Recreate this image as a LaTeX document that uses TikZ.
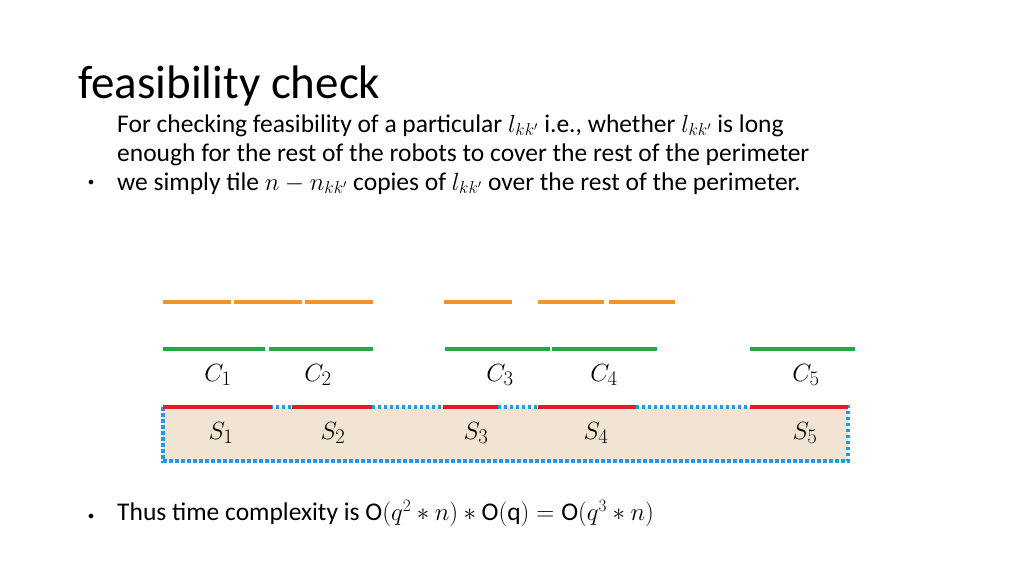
\documentclass[tikz,border=0pt]{standalone}
\usepackage{fontspec}
\setmainfont{Carlito}
\usetikzlibrary{positioning}
\definecolor{tileorange}{RGB}{240,150,40}
\definecolor{covgreen}{RGB}{30,170,70}
\definecolor{segred}{RGB}{225,30,40}
\definecolor{periblue}{RGB}{30,155,225}
\definecolor{perifill}{RGB}{242,228,210}
\tikzset{tile/.style={draw=tileorange, line width=4.5pt}}
\tikzset{cover/.style={draw=covgreen, line width=4.5pt}}
\tikzset{seg/.style={draw=segred, line width=4.5pt}}
\tikzset{perimeter/.style={draw=periblue, fill=perifill, line width=3.5pt, dash pattern=on 3.5pt off 2.5pt}}
\tikzset{body/.style={anchor=west, inner sep=0pt, font=\fontsize{25.5}{29}\selectfont, align=left}}
\tikzset{lbl/.style={inner sep=0pt, font=\fontsize{31}{34}\selectfont}}

\begin{document}
\begin{tikzpicture}[x=1pt, y=-1pt]
\useasboundingbox (0,0) rectangle (1024,576);

\node [anchor=west, inner sep=0pt, font=\fontsize{47}{52}\selectfont] (title) at (78,86) {feasibility check};

\node [body] (bullet1) at (88,183) {\fontsize{12}{12}\selectfont$\bullet$};
\node [body, anchor=base west] (text1) at (117,190) {For checking feasibility of a particular $l_{kk'}$ i.e., whether $l_{kk'}$ is long\\enough for the rest of the robots to cover the rest of the perimeter\\we simply tile $n-n_{kk'}$ copies of $l_{kk'}$ over the rest of the perimeter.};

%PERIMETER
\path [perimeter] (163,407) rectangle (848,461);

%SEGMENTS
\foreach \a/\b in {163/272, 292/372, 443/498, 538/636, 750/848}
  \path [seg] (\a,407) -- (\b,407);
\foreach \a/\b in {163/265, 269/373, 445/550, 552/657, 750/855}
  \path [cover] (\a,349) -- (\b,349);
\foreach \a/\b in {163/231, 234/302, 305/373, 444/512, 538/604, 609/675}
  \path [tile] (\a,302) -- (\b,302);

%LABELS
\foreach \x/\i in {218/1, 318/2, 500/3, 604/4, 806/5}
  \node [lbl] (c\i) at (\x,375) {$C_\i$};
\foreach \x/\i in {221/1, 333/2, 476/3, 596/4, 805/5}
  \node [lbl] (s\i) at (\x,433) {$S_\i$};

\node [body] (bullet2) at (88,517) {\fontsize{12}{12}\selectfont$\bullet$};
\node [body] (text2) at (117,514) {Thus time complexity is $\mathrm{O}(q^2*n)*\mathrm{O(q)}=\mathrm{O}(q^3*n)$};
\end{tikzpicture}
\end{document}
